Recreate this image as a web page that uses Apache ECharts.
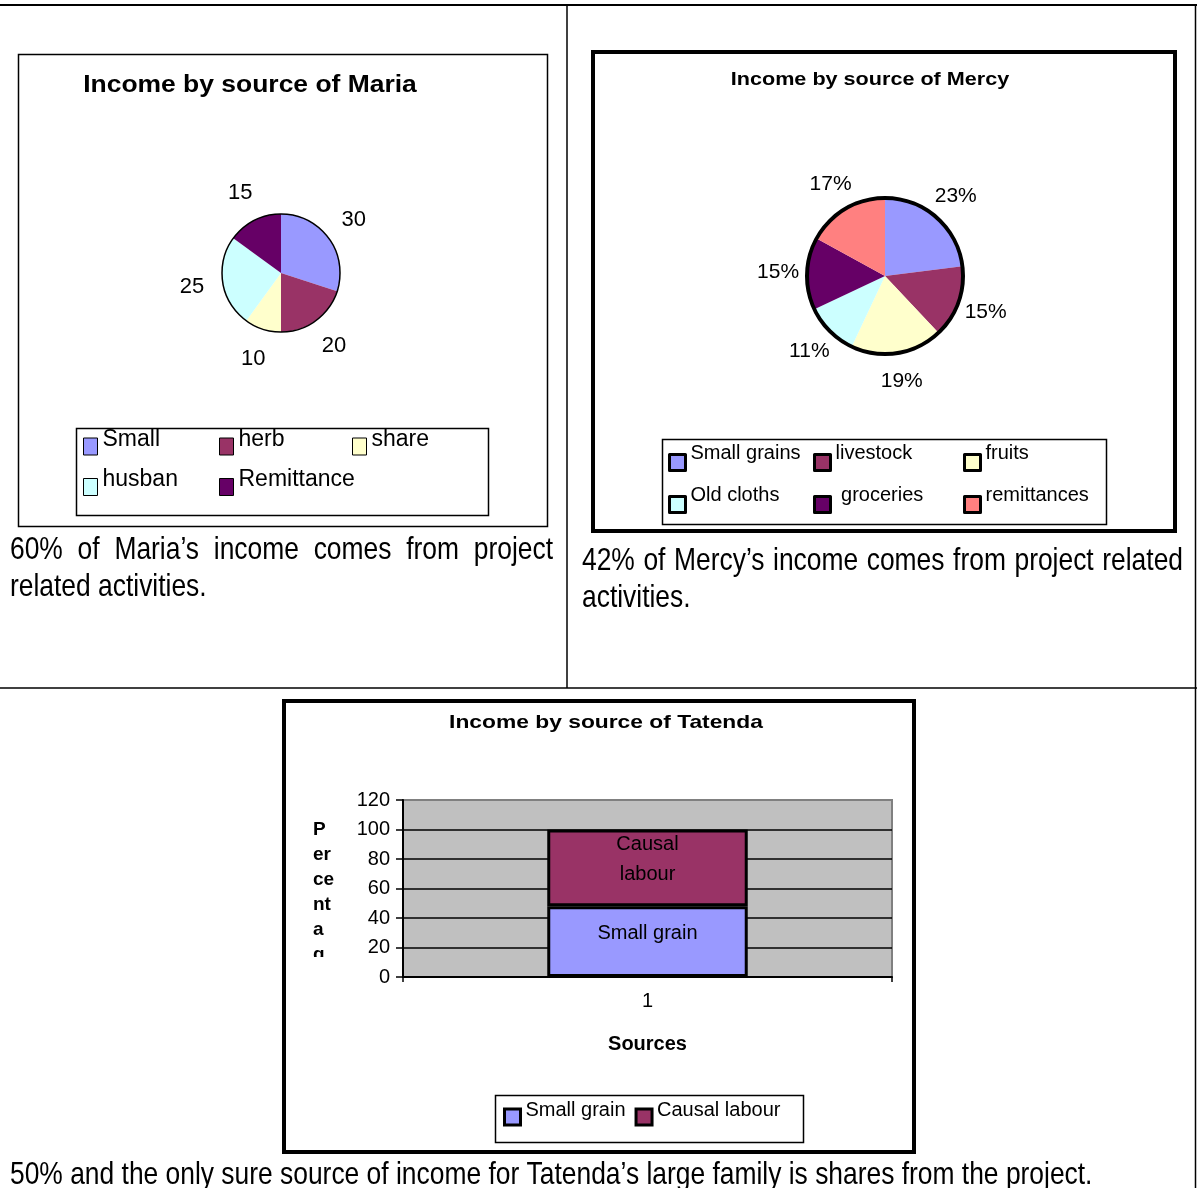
<!DOCTYPE html>
<html>
<head>
<meta charset="utf-8">
<title>Income by source</title>
<script src="https://cdn.jsdelivr.net/npm/echarts@6/dist/echarts.min.js"></script>
<style>
  html, body { margin: 0; padding: 0; background: #ffffff; }
  #chart { width: 1197px; height: 1188px; }
</style>
</head>
<body>
<div id="chart"></div>
<script>
// ---- data ----
const mariaSources = ['Small', 'herb', 'share', 'husban', 'Remittance'];
const mariaValues = [30, 20, 10, 25, 15];

const mercySources = ['Small grains', 'livestock', 'fruits', 'Old cloths', ' groceries', 'remittances'];
const mercyShares = [23, 15, 19, 11, 15, 17];

const tatendaCategories = ['1'];
const smallGrainValues = [48];
const causalLabourValues = [52];

const percentMin = 0, percentMax = 120, percentStep = 20;

// ---- styling ----
const FONT = "'Liberation Sans', Arial, Helvetica, sans-serif";
const palette = ['#9999FF', '#993366', '#FFFFCC', '#CCFFFF', '#660066', '#FF8080'];
const NARROW = 0.825; // condensed body text
const BODY_SIZE = 32;

const measureCtx = document.createElement('canvas').getContext('2d');

// one line of body text; when x1 is given the words are spread to fill x0..x1
function bodyLine(text, x0, y, x1) {
  const font = BODY_SIZE + 'px ' + FONT;
  const base = { type: 'text', y: y, scaleX: NARROW };
  if (x1 === undefined) {
    return [Object.assign({}, base, { x: x0, style: { text: text, font: font, fill: '#000', align: 'left', verticalAlign: 'middle' } })];
  }
  measureCtx.font = font;
  const words = text.split(' ');
  const widths = words.map(w => measureCtx.measureText(w).width * NARROW);
  const gap = (x1 - x0 - widths.reduce((a, b) => a + b, 0)) / (words.length - 1);
  let x = x0;
  return words.map((w, i) => {
    const el = Object.assign({}, base, { x: x, style: { text: w, font: font, fill: '#000', align: 'left', verticalAlign: 'middle' } });
    x += widths[i] + gap;
    return el;
  });
}

function titleText(text, x, y, size, sx) {
  return { type: 'text', x: x, y: y, scaleX: sx,
    style: { text: text, font: 'bold ' + size + 'px ' + FONT, fill: '#000', align: 'center', verticalAlign: 'middle' } };
}

function box(x, y, w, h, lw) {
  return { type: 'rect', shape: { x: x, y: y, width: w, height: h }, style: { fill: 'none', stroke: '#000', lineWidth: lw } };
}

function rule(x1, y1, x2, y2, lw) {
  return { type: 'line', shape: { x1: x1, y1: y1, x2: x2, y2: y2 }, style: { stroke: '#000', lineWidth: lw } };
}

// one legend block; the label sits a little above its swatch
function legendBlock(names, left, top, orient, o) {
  return {
    data: names, left: left, top: top, orient: orient, padding: 0,
    icon: 'rect', itemWidth: o.iw, itemHeight: o.ih, itemGap: o.gap,
    selectedMode: false,
    itemStyle: { borderColor: '#000', borderWidth: o.bw },
    formatter: '{t|{name}}',
    textStyle: { fontFamily: FONT, fontSize: o.fs, color: '#000',
      rich: { t: { fontFamily: FONT, fontSize: o.fs, color: '#000', padding: [0, 0, o.raise, 0] } } }
  };
}

// legend laid out in columns: entry i goes to column i % cols
function legendColumns(names, lefts, top, o) {
  return lefts.map((left, c) =>
    legendBlock(names.filter((n, i) => i % lefts.length === c), left, top, 'vertical', o));
}

const graphics = [
  // table rules
  rule(0, 5, 1197, 5, 2),
  rule(567, 5, 567, 688, 1.5),
  rule(0, 688, 1197, 688, 1.5),
  rule(1195.5, 5, 1195.5, 1188, 1.5),

  // Maria panel
  box(18.5, 54.5, 529, 472, 1.5),
  titleText('Income by source of Maria', 250, 86, 23, 1.15),
  box(76.5, 428.5, 412, 87, 1.5),

  // Mercy panel
  box(593, 52, 582, 479, 4),
  titleText('Income by source of Mercy', 870, 80, 18, 1.2),
  box(662.5, 439.5, 444, 85, 1.5),

  // Tatenda panel
  box(284, 701, 630, 451, 4),
  titleText('Income by source of Tatenda', 606, 723, 19, 1.2),
  box(495.5, 1095.5, 308, 47, 1.5),
  { type: 'text', x: 313, y: 817, style: { text: 'P\ner\nce\nnt\na\ng', font: 'bold 19px ' + FONT, lineHeight: 25, fill: '#000', align: 'left', verticalAlign: 'top' } },
  { type: 'rect', z: 10, shape: { x: 300, y: 957, width: 50, height: 20 }, style: { fill: '#fff' } }
]
  .concat(bodyLine("60% of Maria\u2019s income comes from project", 10, 550, 553))
  .concat(bodyLine('related activities.', 10, 587))
  .concat(bodyLine("42% of Mercy\u2019s income comes from project related", 582, 561, 1183))
  .concat(bodyLine('activities.', 582, 598))
  .concat(bodyLine("50% and the only sure source of income for Tatenda\u2019s large family is shares from the project.", 10, 1175));

function pieData(names, values) {
  return names.map((n, i) => ({ name: n, value: values[i], itemStyle: { color: palette[i] } }));
}

function pieSlices(name, center, radius, names, values) {
  return {
    type: 'pie', name: name, center: center, radius: [0, radius],
    startAngle: 90, clockwise: true, silent: true,
    data: pieData(names, values),
    label: { show: false }, labelLine: { show: false },
    itemStyle: { borderWidth: 0 },
    emphasis: { disabled: true }
  };
}

// transparent ring outside the pie that carries the slice labels
function pieLabels(name, center, r0, r1, names, values, fmt, fs) {
  return {
    type: 'pie', name: name, center: center, radius: [r0, r1],
    startAngle: 90, clockwise: true, silent: true,
    data: names.map((n, i) => ({ name: n, value: values[i] })),
    itemStyle: { color: 'rgba(0,0,0,0)', borderWidth: 0 },
    label: { show: true, position: 'inside', formatter: fmt, fontFamily: FONT, fontSize: fs, color: '#000', textBorderWidth: 0 },
    labelLine: { show: false },
    emphasis: { disabled: true }
  };
}

function rim(center, radius, lw) {
  return {
    type: 'pie', name: 'rim', center: center, radius: [0, radius], silent: true,
    data: [{ name: 'rim', value: 1 }],
    label: { show: false }, labelLine: { show: false },
    itemStyle: { color: 'rgba(0,0,0,0)', borderColor: '#000', borderWidth: lw },
    emphasis: { disabled: true }
  };
}

const mariaCenter = [281, 273];
const mercyCenter = [885, 276];

const mariaLegendOpts = { iw: 14, ih: 17, gap: 13, bw: 1, fs: 23, raise: 14 };
const mercyLegendOpts = { iw: 16, ih: 16, gap: 13, bw: 3, fs: 20, raise: 19 };

const option = {
  animation: false,
  backgroundColor: '#ffffff',
  graphic: { elements: graphics },
  legend: []
    .concat(legendColumns(mariaSources, [83, 219, 352], 428, mariaLegendOpts))
    .concat(legendColumns(mercySources, [668, 813, 963], 443, mercyLegendOpts))
    .concat([legendBlock(['Small grain', 'Causal labour'], 503, 1100, 'horizontal', { iw: 16, ih: 16, gap: 9, bw: 3, fs: 20, raise: 14 })]),
  grid: {
    left: 403, top: 800, width: 489, height: 177, show: true,
    backgroundColor: '#c0c0c0', borderColor: '#808080', borderWidth: 2
  },
  xAxis: {
    type: 'category', data: tatendaCategories,
    name: 'Sources', nameLocation: 'middle', nameGap: 57,
    nameTextStyle: { fontFamily: FONT, fontWeight: 'bold', fontSize: 20, color: '#000' },
    axisLine: { lineStyle: { color: '#000', width: 2 } },
    axisTick: { show: true, length: 5, lineStyle: { color: '#000', width: 1.5 } },
    axisLabel: { fontFamily: FONT, fontSize: 20, color: '#000', margin: 14 }
  },
  yAxis: {
    type: 'value', min: percentMin, max: percentMax, interval: percentStep,
    axisLine: { show: true, lineStyle: { color: '#000', width: 2 } },
    axisTick: { show: true, length: 7, lineStyle: { color: '#000', width: 1.5 } },
    axisLabel: { fontFamily: FONT, fontSize: 20, color: '#000', margin: 13 },
    splitLine: { show: true, lineStyle: { color: ['#000', '#000', '#000', '#000', '#000', '#000', '#808080'], width: 1.5 } }
  },
  series: [
    pieSlices('Maria', mariaCenter, 59, mariaSources, mariaValues),
    rim(mariaCenter, 59, 1.5),
    pieLabels('Maria labels', mariaCenter, 80, 94, mariaSources, mariaValues, '{c}', 22),

    pieSlices('Mercy', mercyCenter, 78, mercySources, mercyShares),
    rim(mercyCenter, 78, 4),
    pieLabels('Mercy labels', mercyCenter, 97, 111, mercySources, mercyShares, '{c}%', 21),

    {
      type: 'bar', name: 'Small grain', stack: 'income', data: smallGrainValues, barWidth: '41%',
      itemStyle: { color: '#9999FF', borderColor: '#000', borderWidth: 3 },
      label: { show: true, position: 'inside', formatter: '{a}', fontFamily: FONT, fontSize: 20, color: '#000', textBorderWidth: 0, offset: [0, -8] },
      emphasis: { disabled: true }
    },
    {
      type: 'bar', name: 'Causal labour', stack: 'income', data: causalLabourValues, barWidth: '41%',
      itemStyle: { color: '#993366', borderColor: '#000', borderWidth: 3 },
      label: { show: true, position: 'inside', formatter: p => p.seriesName.replace(' ', '\n'), fontFamily: FONT, fontSize: 20, lineHeight: 30, color: '#000', textBorderWidth: 0, offset: [0, -8] },
      emphasis: { disabled: true }
    }
  ]
};

const chart = echarts.init(document.getElementById('chart'), null, { renderer: 'canvas' });
chart.setOption(option);
</script>
</body>
</html>
